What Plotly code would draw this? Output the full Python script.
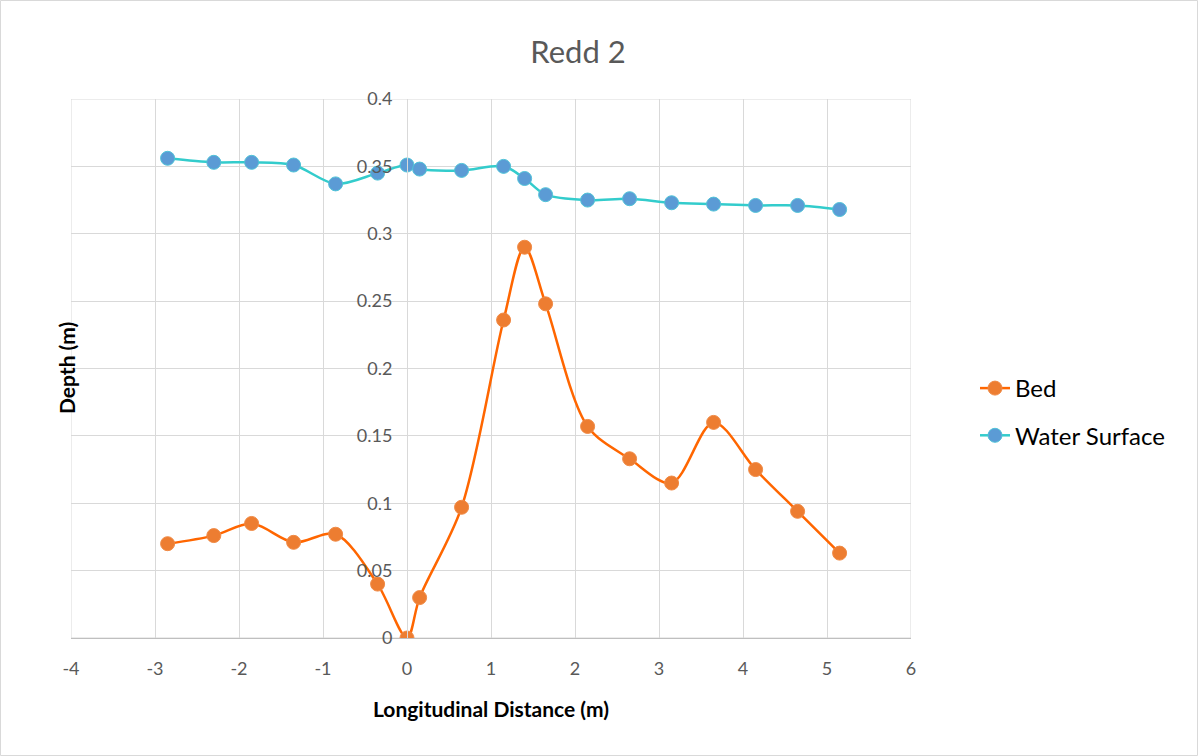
import plotly.graph_objects as go

x_pos = [-2.85, -2.3, -1.85, -1.35, -0.85, -0.35, 0, 0.15, 0.65, 1.15, 1.4, 1.65,
         2.15, 2.65, 3.15, 3.65, 4.15, 4.65, 5.15]
bed = [0.070, 0.076, 0.085, 0.071, 0.077, 0.040, 0.0, 0.030, 0.097, 0.236, 0.290, 0.248,
       0.157, 0.133, 0.115, 0.160, 0.125, 0.094, 0.063]
water = [0.356, 0.353, 0.353, 0.351, 0.337, 0.345, 0.351, 0.348, 0.347, 0.350, 0.341, 0.329,
         0.325, 0.326, 0.323, 0.322, 0.321, 0.321, 0.318]

x_ticks = [-4, -3, -2, -1, 0, 1, 2, 3, 4, 5, 6]
x_tick_text = ["-4", "-3", "-2", "-1", "0", "1", "2", "3", "4", "5", "6"]
y_ticks = [0, 0.05, 0.1, 0.15, 0.2, 0.25, 0.3, 0.35, 0.4]
y_tick_text = ["0", "0.05", "0.1", "0.15", "0.2", "0.25", "0.3", "0.35", "0.4"]

FONT = "Lato"
W, H = 1198, 756
ML, MR, MT, MB = 71, 287, 99, 118
PW, PH = W - ML - MR, H - MT - MB

def px2paper_x(px):
    return (px - ML) / PW

def px2paper_y(py):
    return (H - MB - py) / PH

fig = go.Figure()
fig.add_trace(go.Scatter(
    x=x_pos, y=bed, name="Bed", mode="lines+markers",
    line=dict(color="#FF6600", width=2.5, shape="spline", smoothing=0.9),
    marker=dict(color="#ED7D31", size=14, line=dict(color="#F08A45", width=1)),
    legendgroup="a",
))
fig.add_trace(go.Scatter(
    x=x_pos, y=water, name="Water Surface", mode="lines+markers",
    line=dict(color="#33CCCC", width=2.5, shape="spline", smoothing=0.9),
    marker=dict(color="#5B9BD5", size=14, line=dict(color="#4FC3D8", width=1)),
    legendgroup="b",
))

fig.update_layout(
    width=W, height=H,
    margin=dict(l=ML, r=MR, t=MT, b=MB),
    paper_bgcolor="white", plot_bgcolor="white",
    font=dict(family=FONT, color="#595959", size=18),
    title=dict(text="Redd 2", x=px2paper_x(578), xref="paper", xanchor="center",
               y=1 - 52 / H, yanchor="middle",
               font=dict(size=31, color="#595959", family=FONT)),
    xaxis=dict(range=[-4, 6], tickvals=x_ticks, ticktext=x_tick_text, showgrid=True,
               gridcolor="#D9D9D9", gridwidth=1, zeroline=False, showline=True,
               linecolor="#BFBFBF", ticks="", ticklabelstandoff=14,
               tickfont=dict(size=18, color="#595959"),
               title=dict(text="<b>Longitudinal Distance (m)</b>",
                          font=dict(size=21, color="#000000"), standoff=24)),
    yaxis=dict(range=[0, 0.4], tickvals=y_ticks, ticktext=y_tick_text,
               showgrid=True, gridcolor="#D9D9D9", gridwidth=1, zeroline=False,
               showline=True, linecolor="#D9D9D9", ticks="",
               anchor="free", position=0.4, ticklabelstandoff=11,
               tickfont=dict(size=18, color="#595959")),
    legend=dict(x=px2paper_x(975), y=px2paper_y(412), xanchor="left", yanchor="middle",
                font=dict(size=24, color="#000000", family=FONT),
                tracegroupgap=13, traceorder="grouped", bgcolor="rgba(0,0,0,0)"),
    showlegend=True,
)

fig.add_shape(type="rect", xref="x", yref="y", x0=-4, x1=6, y0=0, y1=0.4,
              line=dict(color="#D9D9D9", width=1), layer="below")

fig.add_annotation(text="<b>Depth (m)</b>", x=px2paper_x(52), y=0.5, xref="paper",
                   yref="paper", textangle=-90, showarrow=False,
                   font=dict(size=21, color="#000000", family=FONT))

fig.add_shape(type="rect", xref="paper", yref="paper",
              x0=px2paper_x(0.5), x1=px2paper_x(1197.5),
              y0=px2paper_y(755.5), y1=px2paper_y(0.5),
              line=dict(color="#D9D9D9", width=1), layer="below")

fig.write_html("out.html")
